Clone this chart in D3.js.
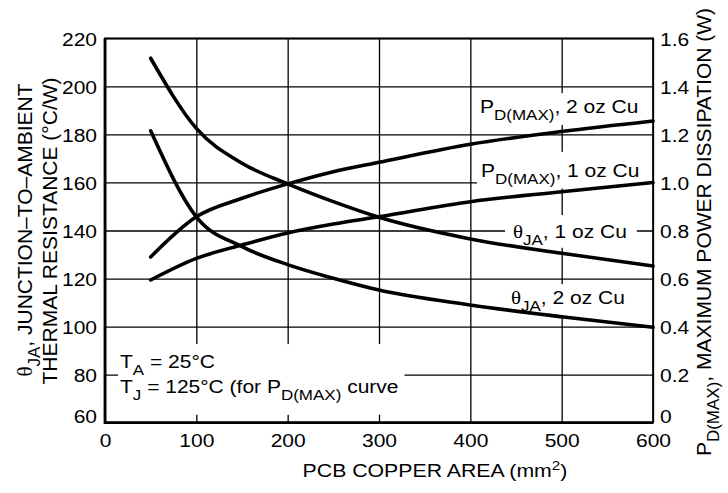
<!DOCTYPE html>
<html>
<head>
<meta charset="utf-8">
<script src="https://cdn.jsdelivr.net/npm/d3@7"></script>
<style>
body { margin: 0; background: #fff; }
text { font-family: "Liberation Sans", Arial, sans-serif; fill: #000; }
</style>
</head>
<body>
<svg id="chart" width="728" height="493"></svg>
<script>
// PCB copper area (mm2) and the four curves
var area = [50, 100, 150, 200, 250, 300, 400, 500, 600];
var theta1oz = [211.7, 182.5, 168, 159.4, 152, 145.5, 136.5, 130.5, 125.2];
var theta2oz = [181.5, 145.7, 133.3, 125.8, 120.1, 115.2, 109, 104.1, 99.7];
var pd2oz = [0.69, 0.857, 0.934, 0.994, 1.045, 1.084, 1.159, 1.212, 1.256];
var pd1oz = [0.594, 0.684, 0.74, 0.79, 0.827, 0.857, 0.92, 0.961, 1.0];

var xTicks = [0, 100, 200, 300, 400, 500, 600];
var leftTicks = [60, 80, 100, 120, 140, 160, 180, 200, 220];
var rightTicks = [0, 0.2, 0.4, 0.6, 0.8, 1.0, 1.2, 1.4, 1.6];

var squash = 'scale(1,0.88)';
var svg = d3.select('#chart');

var x = d3.scaleLinear().domain([0, 600]).range([105, 653]);
var y = d3.scaleLinear().domain([60, 220]).range([422.7, 38.3]);
var y2 = d3.scaleLinear().domain([0, 1.6]).range([422.7, 38.3]);
var plotW = x.range()[1] - x.range()[0];
var plotH = y.range()[0] - y.range()[1];

// grid + tick labels
var gx = svg.append('g')
    .attr('transform', 'translate(0,' + y.range()[0] + ')')
    .call(d3.axisBottom(x).tickValues(xTicks).tickSize(-plotH).tickFormat(d3.format('d')));
var gy = svg.append('g')
    .attr('transform', 'translate(' + x.range()[0] + ',0)')
    .call(d3.axisLeft(y).tickValues(leftTicks).tickSize(-plotW).tickFormat(d3.format('d')));
var gy2 = svg.append('g')
    .attr('transform', 'translate(' + x.range()[1] + ',0)')
    .call(d3.axisRight(y2).tickValues(rightTicks).tickSize(0)
        .tickFormat(function(d) { return d === 0 ? '0' : d3.format('.1f')(d); }));

[gx, gy, gy2].forEach(function(g) {
    g.attr('font-size', 21).attr('font-family', null);
    g.select('.domain').remove();
    g.selectAll('line').attr('stroke', '#000').attr('stroke-width', 1.3);
    g.selectAll('text').attr('x', null).attr('y', null).attr('dy', null);
});
gx.selectAll('text').attr('transform', 'translate(0,24) ' + squash);
gy.selectAll('text').attr('transform', function(d) {
    return 'translate(-8,' + (d === 60 ? 0 : 7) + ') ' + squash;
});
gy2.selectAll('text').attr('transform', function(d) {
    return 'translate(7,' + (d === 0 ? 0 : 7) + ') ' + squash;
});

// white backgrounds for labels go under the curves
var boxes = svg.append('g');

var line = d3.line().curve(d3.curveMonotoneX);
function path(vals, scale) {
    return line(area.map(function(a, i) { return [x(a), scale(vals[i])]; }));
}
svg.append('g').selectAll('path')
    .data([[theta1oz, y], [theta2oz, y], [pd2oz, y2], [pd1oz, y2]])
    .enter()
    .append('path')
    .attr('d', function(d) { return path(d[0], d[1]); })
    .attr('fill', 'none')
    .attr('stroke', '#000')
    .attr('stroke-width', 3.6)
    .attr('stroke-linecap', 'round');

// frame
svg.append('rect')
    .attr('x', x.range()[0]).attr('y', y.range()[1])
    .attr('width', plotW).attr('height', plotH)
    .attr('fill', 'none').attr('stroke', '#000').attr('stroke-width', 1.7);
svg.append('path')
    .attr('d', 'M' + x.range()[0] + ',' + y.range()[1] + 'V' + y.range()[0] + 'H' + x.range()[1])
    .attr('fill', 'none').attr('stroke', '#000').attr('stroke-width', 2.8);

// in-plot labels: [area, theta] anchor, lines of [text, kind], pad [l, t, r, b]
var notes = [
    {at: [410.6, 188.9], pad: [3, 3, 3, 2],
     lines: [[['P', ''], ['D(MAX)', 'sub'], [', 2 oz Cu', '']]]},
    {at: [411.7, 162.4], pad: [4, 8, 12, 2],
     lines: [[['P', ''], ['D(MAX)', 'sub'], [', 1 oz Cu', '']]]},
    {at: [446.7, 136.9], pad: [8, 6, 10, 0],
     lines: [[['\u03b8', 'greek'], ['JA', 'sub'], [', 1 oz Cu', '']]]},
    {at: [444.5, 109.4], pad: [6, 3, 6, 2],
     lines: [[['\u03b8', 'greek'], ['JA', 'sub'], [', 2 oz Cu', '']]]},
    {at: [16.4, 82.8], pad: [2, 7, 6, 12],
     lines: [[['T', ''], ['A', 'sub'], [' = 25\u00b0C', '']],
             [['T', ''], ['J', 'sub'], [' = 125\u00b0C (for P', ''], ['D(MAX)', 'sub'], [' curve', '']]]}
];

function addParts(text, parts) {
    var shift = 0;
    parts.forEach(function(p) {
        var t = text.append('tspan').text(p[0]);
        var want = p[1] === 'sub' ? 8 : 0;
        if (want !== shift) t.attr('dy', want - shift);
        shift = want;
        if (p[1] === 'sub') t.attr('font-size', 17);
        if (p[1] === 'greek') t.style('font-family', '"Liberation Serif", serif');
    });
}

var svgBox = svg.node().getBoundingClientRect();
notes.forEach(function(n) {
    var g = svg.append('g')
        .attr('transform', 'translate(' + x(n.at[0]) + ',' + y(n.at[1]) + ') ' + squash)
        .attr('font-size', 21);
    n.lines.forEach(function(parts, i) {
        addParts(g.append('text').attr('y', i * 28.4), parts);
    });
    var b = g.node().getBoundingClientRect();
    boxes.append('rect')
        .attr('x', b.left - svgBox.left - n.pad[0])
        .attr('y', b.top - svgBox.top - n.pad[1])
        .attr('width', b.width + n.pad[0] + n.pad[2])
        .attr('height', b.height + n.pad[1] + n.pad[3])
        .attr('fill', '#fff');
});

// axis titles
var t1 = svg.append('text').attr('font-size', 21).attr('text-anchor', 'middle')
    .attr('transform', 'translate(32,230) rotate(-90)');
addParts(t1, [['\u03b8', 'greek'], ['JA', 'sub'], [', JUNCTION\u2013TO\u2013AMBIENT', '']]);
svg.append('text').attr('font-size', 21).attr('text-anchor', 'middle')
    .attr('transform', 'translate(57,231) rotate(-90)')
    .text('THERMAL RESISTANCE (\u00b0C/W)');
var t3 = svg.append('text').attr('font-size', 21).attr('text-anchor', 'middle')
    .attr('transform', 'translate(711,232) rotate(-90)');
addParts(t3, [['P', ''], ['D(MAX)', 'sub'], [', MAXIMUM POWER DISSIPATION (W)', '']]);

// x title, stretched to the width it has in the datasheet (about 302..567)
var xt = svg.append('text').attr('font-size', 21).attr('text-anchor', 'middle');
xt.append('tspan').text('PCB COPPER AREA (mm');
xt.append('tspan').text('2').attr('font-size', 15).attr('dy', -8);
xt.append('tspan').text(')').attr('dy', 8);
var xw = xt.node().getBBox().width;
xt.attr('transform', 'translate(435,477) scale(' + (265 / xw) + ',0.88)');
</script>
</body>
</html>
